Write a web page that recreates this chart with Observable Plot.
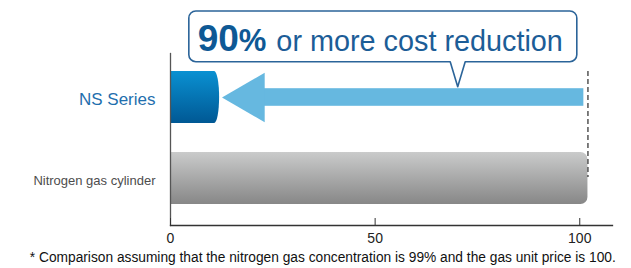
<!DOCTYPE html>
<html><head><meta charset="utf-8">
<script src="https://cdn.jsdelivr.net/npm/d3@7"></script>
<script src="https://cdn.jsdelivr.net/npm/@observablehq/plot@0.6"></script>
<style>
html,body{margin:0;padding:0;background:#fff;}
#chart svg{display:block;}
</style></head><body><div id="chart"></div>
<script>
// ---- data ----
const categories = ["NS Series", "Nitrogen gas cylinder"];
const costValues = [12, 102];
const xTicks = [0, 50, 100];
const xDomain = [0, 108];
const referenceLine = [102];          // dashed line at the cylinder cost
const arrowFrom = [101];              // arrow tail (x)
const arrowTo = [12.6];               // arrow tip (x)
const calloutSpan = [4.6, 99.4];      // callout box extent (x)
const calloutPointer = [70.3];        // callout pointer (x)
const calloutParts = ["90", "%", " or more cost reduction"];
const footnote = ["* Comparison assuming that the nitrogen gas concentration is 99% and the gas unit price is 100."];

const bars = categories.map((c, i) => ({category: c, value: costValues[i]}));
const FONT = "Liberation Sans, Arial, Helvetica, sans-serif";
const arrowColor = "#66b8e0";

function gradients() {
  const defs = d3.create("svg:defs");
  const g1 = defs.append("linearGradient").attr("id", "nsGrad").attr("x1", 0).attr("y1", 0).attr("x2", 0).attr("y2", 1);
  g1.append("stop").attr("offset", "0%").attr("stop-color", "#0a91d2");
  g1.append("stop").attr("offset", "100%").attr("stop-color", "#005894");
  const g2 = defs.append("linearGradient").attr("id", "gasGrad").attr("x1", 0).attr("y1", 0).attr("x2", 0).attr("y2", 1);
  g2.append("stop").attr("offset", "0%").attr("stop-color", "#cacbcb");
  g2.append("stop").attr("offset", "100%").attr("stop-color", "#878787");
  return defs.node();
}

function callout(index, scales) {
  const {x, y} = scales;
  const yc = y(categories[0]) + y.bandwidth() / 2;
  const left = x(calloutSpan[0]), right = x(calloutSpan[1]);
  const top = yc - 86, bottom = yc - 35.3, tipY = yc - 10.3;
  const px = x(calloutPointer[0]), hw = 7.5, r = 7;
  const d = `M${left + r},${top} H${right - r} A${r},${r} 0 0 1 ${right},${top + r} V${bottom - r} A${r},${r} 0 0 1 ${right - r},${bottom} H${px + hw} L${px},${tipY} L${px - hw},${bottom} H${left + r} A${r},${r} 0 0 1 ${left},${bottom - r} V${top + r} A${r},${r} 0 0 1 ${left + r},${top} Z`;
  const g = d3.create("svg:g");
  g.append("path").attr("d", d).attr("fill", "#fff").attr("stroke", "#2b6499").attr("stroke-width", 1.6).attr("stroke-linejoin", "round");
  const t = g.append("text").attr("x", left + 8.8).attr("y", yc - 45.6).attr("text-anchor", "start").attr("font-family", FONT);
  t.append("tspan").attr("font-size", 37).attr("font-weight", "bold").attr("fill", "#0e5995").text(calloutParts[0]);
  t.append("tspan").attr("font-size", 31).attr("font-weight", "bold").attr("fill", "#0e5995").text(calloutParts[1]);
  t.append("tspan").attr("font-size", 28.8).attr("fill", "#1c5d97").attr("dx", 2).text(calloutParts[2]);
  return g.node();
}

const chart = Plot.plot({
  width: 631,
  height: 268,
  marginLeft: 170,
  marginRight: 19,
  marginTop: 53,
  marginBottom: 43,
  style: {fontFamily: FONT, background: "#fff"},
  x: {domain: xDomain},
  y: {domain: categories, paddingInner: 0.352, paddingOuter: 0.237, align: 0.47, axis: null},
  marks: [
    gradients,
    // rounded right ends
    Plot.barX(bars.filter(d => d.category === categories[1]), {y: "category", x1: 0, x2: "value", fill: "url(#gasGrad)", rx: 7}),
    Plot.barX(bars.filter(d => d.category === categories[1]), {y: "category", x1: 0, x2: "value", insetRight: 9, fill: "url(#gasGrad)"}),
    Plot.barX(bars.filter(d => d.category === categories[0]), {y: "category", x1: 0, x2: "value", fill: "url(#nsGrad)", rx: 5, ry: 26}),
    Plot.barX(bars.filter(d => d.category === categories[0]), {y: "category", x1: 0, x2: "value", insetRight: 6, fill: "url(#nsGrad)"}),
    // dashed reference line
    Plot.ruleX(referenceLine, {x: d => d, y1: () => categories[0], y2: () => categories[1], insetBottom: 27, stroke: "#3a3a3a", strokeWidth: 1.3, strokeDasharray: "5,3"}),
    // big arrow
    Plot.barX(arrowFrom, {y: () => categories[0], x1: () => arrowTo[0], x2: d => d, insetLeft: 35, insetTop: 17.2, insetBottom: 17.2, fill: arrowColor}),
    Plot.dot(arrowTo, {x: d => d, y: () => categories[0], symbol: "triangle", r: 18.3, rotate: -90, dx: 28.4, fill: arrowColor, stroke: "none"}),
    callout,
    // axes
    Plot.frame({anchor: "left", stroke: "#555", strokeWidth: 1.3}),
    Plot.frame({anchor: "bottom", stroke: "#333", strokeWidth: 1.3}),
    Plot.axisX({ticks: xTicks, tickSize: -7, tickPadding: 15, fontSize: 14, fill: "#222", stroke: "#333", label: null, tickFormat: d => d}),
    // category labels
    Plot.text([categories[0]], {y: d => d, frameAnchor: "left", dx: -15, dy: 2.5, textAnchor: "end", fontSize: 17, fill: "#1f6fae"}),
    Plot.text([categories[1]], {y: d => d, frameAnchor: "left", dx: -15, dy: 2.5, textAnchor: "end", fontSize: 13, fill: "#4d4d4d"}),
    // footnote
    Plot.text(footnote, {text: d => d, frameAnchor: "bottom-left", textAnchor: "start", dx: -140.7, dy: 36, fontSize: 13.8, fill: "#111"})
  ]
});

d3.select(chart).selectAll("text").filter(function () { return this.textContent === footnote[0]; })
  .attr("textLength", 586).attr("lengthAdjust", "spacingAndGlyphs");

document.getElementById("chart").appendChild(chart);
</script></body></html>
